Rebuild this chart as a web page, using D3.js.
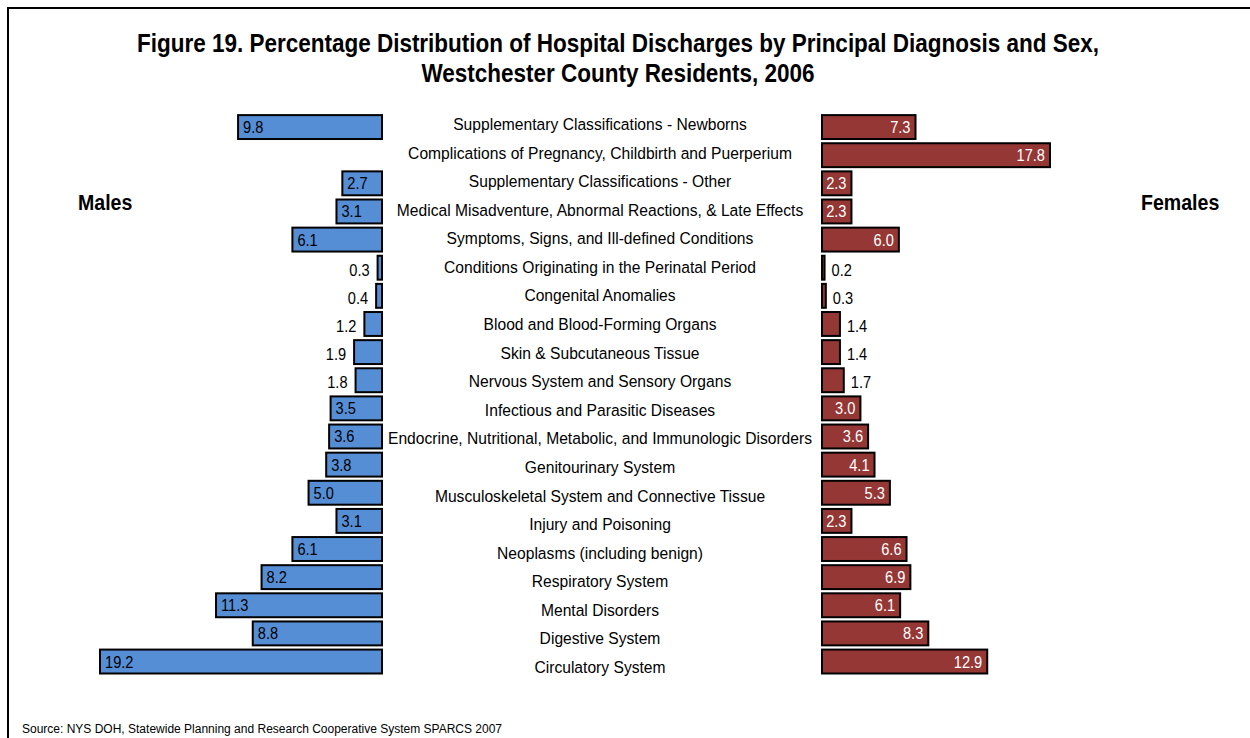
<!DOCTYPE html>
<html>
<head>
<meta charset="utf-8">
<script src="https://cdn.jsdelivr.net/npm/d3@7"></script>
<style>
  body { margin: 0; background: #fff; }
  svg { display: block; font-family: "Liberation Sans", Arial, sans-serif; }
</style>
</head>
<body>
<svg id="chart" width="1250" height="738"></svg>
<script>
const categories = [
  'Supplementary Classifications - Newborns',
  'Complications of Pregnancy, Childbirth and Puerperium',
  'Supplementary Classifications - Other',
  'Medical Misadventure, Abnormal Reactions, & Late Effects',
  'Symptoms, Signs, and Ill-defined Conditions',
  'Conditions Originating in the Perinatal Period',
  'Congenital Anomalies',
  'Blood and Blood-Forming Organs',
  'Skin & Subcutaneous Tissue',
  'Nervous System and Sensory Organs',
  'Infectious and Parasitic Diseases',
  'Endocrine, Nutritional, Metabolic, and Immunologic Disorders',
  'Genitourinary System',
  'Musculoskeletal System and Connective Tissue',
  'Injury and Poisoning',
  'Neoplasms (including benign)',
  'Respiratory System',
  'Mental Disorders',
  'Digestive System',
  'Circulatory System'
];
// null = no bar for that sex
const males = [9.8, null, 2.7, 3.1, 6.1, 0.3, 0.4, 1.2, 1.9, 1.8, 3.5, 3.6, 3.8, 5.0, 3.1, 6.1, 8.2, 11.3, 8.8, 19.2];
const females = [7.3, 17.8, 2.3, 2.3, 6.0, 0.2, 0.3, 1.4, 1.4, 1.7, 3.0, 3.6, 4.1, 5.3, 2.3, 6.6, 6.9, 6.1, 8.3, 12.9];

const titleLines = [
  'Figure 19. Percentage Distribution of Hospital Discharges by Principal Diagnosis and Sex,',
  'Westchester County Residents, 2006'
];
const sourceText = 'Source: NYS DOH, Statewide Planning and Research Cooperative System SPARCS 2007';

const svg = d3.select('#chart');

// the original type is a bit narrow, so squeeze it horizontally
function put (sel, x, y, sx) {
  return sel.attr('transform', `translate(${x},${y}) scale(${sx},1)`);
}

// frame (runs off the right and bottom edges)
svg.append('rect')
  .attr('x', 8).attr('y', 8)
  .attr('width', 1300).attr('height', 800)
  .attr('fill', 'none')
  .attr('stroke', '#000')
  .attr('stroke-width', 2);

titleLines.forEach((t, i) => {
  put(svg.append('text'), 618, 52 + i * 30, 0.9)
    .attr('text-anchor', 'middle')
    .attr('font-size', 25)
    .attr('font-weight', 'bold')
    .text(t);
});

const y = d3.scaleBand()
  .domain(categories)
  .range([113, 675.6])
  .paddingInner(0.15)
  .paddingOuter(0.075);

// the centre labels sit on a slightly wider pitch than the bars
const yLabel = d3.scalePoint()
  .domain(categories)
  .range([127, 670]);

const xMale = d3.scaleLinear().domain([0, 19.2]).range([382, 100]);
const xFemale = d3.scaleLinear().domain([0, 17.8]).range([822, 1050]);

const rows = categories.map((c, i) => ({ c, m: males[i], f: females[i] }));

// male bars
const mg = svg.append('g');
mg.selectAll('rect')
  .data(rows.filter(d => d.m != null))
  .join('rect')
  .attr('x', d => xMale(d.m))
  .attr('y', d => y(d.c))
  .attr('width', d => xMale(0) - xMale(d.m))
  .attr('height', y.bandwidth())
  .attr('fill', '#558ED5')
  .attr('stroke', '#000')
  .attr('stroke-width', 2);

mg.selectAll('text')
  .data(rows.filter(d => d.m != null))
  .join('text')
  .each(function (d) {
    const t = d3.select(this);
    if (d.m >= 2.5) {
      put(t, xMale(d.m) + 5, y(d.c) + y.bandwidth() / 2 + 6, 0.86).attr('text-anchor', 'start');
    } else {
      put(t, xMale(d.m) - 8, y(d.c) + y.bandwidth() / 2 + 8, 0.86).attr('text-anchor', 'end');
    }
  })
  .attr('font-size', 17)
  .attr('fill', '#000')
  .text(d => d.m.toFixed(1));

// female bars
const fg = svg.append('g');
fg.selectAll('rect')
  .data(rows.filter(d => d.f != null))
  .join('rect')
  .attr('x', xFemale(0))
  .attr('y', d => y(d.c))
  .attr('width', d => xFemale(d.f) - xFemale(0))
  .attr('height', y.bandwidth())
  .attr('fill', '#953735')
  .attr('stroke', '#000')
  .attr('stroke-width', 2);

fg.selectAll('text')
  .data(rows.filter(d => d.f != null))
  .join('text')
  .each(function (d) {
    const t = d3.select(this);
    if (d.f >= 2) {
      put(t, xFemale(d.f) - 5, y(d.c) + y.bandwidth() / 2 + 6, 0.86).attr('text-anchor', 'end').attr('fill', '#fff');
    } else {
      put(t, xFemale(d.f) + 7, y(d.c) + y.bandwidth() / 2 + 8, 0.86).attr('text-anchor', 'start').attr('fill', '#000');
    }
  })
  .attr('font-size', 17)
  .text(d => d.f.toFixed(1));

// category labels
svg.append('g').selectAll('text')
  .data(categories)
  .join('text')
  .each(function (d) { put(d3.select(this), 600, yLabel(d) + 3, 0.92); })
  .attr('text-anchor', 'middle')
  .attr('font-size', 17)
  .text(d => d);

put(svg.append('text'), 78, 210, 0.91).attr('font-size', 21.5).attr('font-weight', 'bold').text('Males');
put(svg.append('text'), 1141, 210, 0.91).attr('font-size', 21.5).attr('font-weight', 'bold').text('Females');

put(svg.append('text'), 22, 733, 1).attr('font-size', 12).text(sourceText);
</script>
</body>
</html>
